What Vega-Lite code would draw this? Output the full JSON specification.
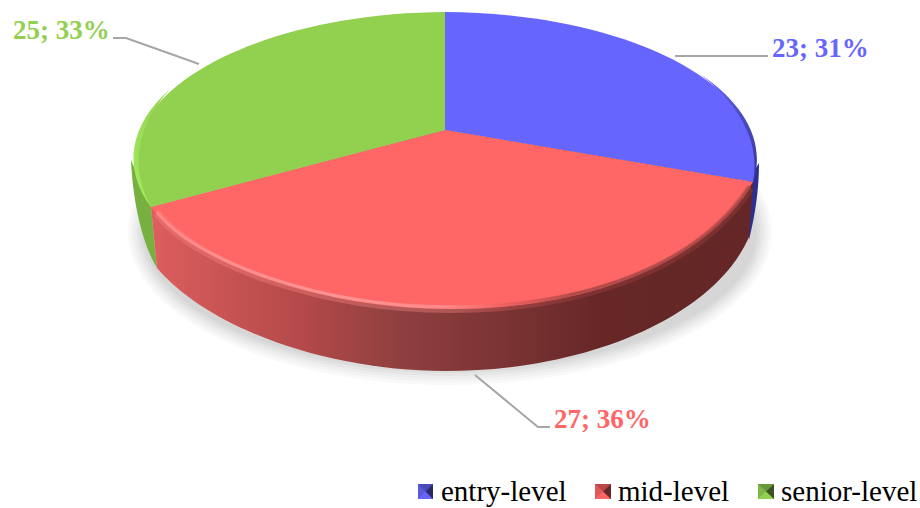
{
  "$schema": "https://vega.github.io/schema/vega-lite/v6.json",
  "width": 920,
  "height": 508,
  "padding": 0,
  "autosize": {"type": "fit", "contains": "padding"},
  "background": "white",
  "view": {"stroke": null},
  "data": {"values": [
    {"level": "entry-level", "count": 23, "share": 31, "label": "23; 31%"},
    {"level": "mid-level", "count": 27, "share": 36, "label": "27; 36%"},
    {"level": "senior-level", "count": 25, "share": 33, "label": "25; 33%"}
  ]},
  "resolve": {"scale": {"shape": "independent"}},
  "layer": [
    {"transform": [{"filter": "datum.level === 'mid-level'"}],
     "mark": {"type": "point", "filled": true, "size": 4, "opacity": 0.025, "fill": "#000", "strokeWidth": 0,
       "shape": "M-332,-22A322,153,0,1,0,312,-22A322,153,0,1,0,-332,-22Z"}},
    {"transform": [{"filter": "datum.level === 'mid-level'"}],
     "mark": {"type": "point", "filled": true, "size": 4, "opacity": 0.025, "fill": "#000", "strokeWidth": 0,
       "shape": "M-329,-22A319,150,0,1,0,309,-22A319,150,0,1,0,-329,-22Z"}},
    {"transform": [{"filter": "datum.level === 'mid-level'"}],
     "mark": {"type": "point", "filled": true, "size": 4, "opacity": 0.025, "fill": "#000", "strokeWidth": 0,
       "shape": "M-326,-22A316,147,0,1,0,306,-22A316,147,0,1,0,-326,-22Z"}},
    {"transform": [{"filter": "datum.level === 'mid-level'"}],
     "mark": {"type": "point", "filled": true, "size": 4, "opacity": 0.03, "fill": "#000", "strokeWidth": 0,
       "shape": "M-323,-22A313,144,0,1,0,303,-22A313,144,0,1,0,-323,-22Z"}},
    {"transform": [{"filter": "datum.level === 'mid-level'"}],
     "mark": {"type": "point", "filled": true, "size": 4, "opacity": 0.03, "fill": "#000", "strokeWidth": 0,
       "shape": "M-320,-22A310,141,0,1,0,300,-22A310,141,0,1,0,-320,-22Z"}},
    {"transform": [{"filter": "datum.level === 'mid-level'"}],
     "mark": {"type": "point", "filled": true, "size": 4, "opacity": 0.03, "fill": "#000", "strokeWidth": 0,
       "shape": "M-317,-22A307,138,0,1,0,297,-22A307,138,0,1,0,-317,-22Z"}},
    {"transform": [{"filter": "datum.level === 'entry-level'"}],
     "mark": {"type": "point", "filled": true, "size": 4, "opacity": 1, "fill": "#2c2f8f", "strokeWidth": 0,
       "shape": "M299,-91C299,-64,295,-39,289,-14L285,-69Z"}},
    {"transform": [{"filter": "datum.level === 'senior-level'"}],
     "mark": {"type": "point", "filled": true, "size": 4, "opacity": 1, "fill": "#78b040", "strokeWidth": 0,
       "shape": "M-329,-94C-327,-49,-317,-9,-303,14L-309,-47Z"}},
    {"transform": [{"filter": "datum.level === 'mid-level'"}],
     "mark": {"type": "point", "filled": true, "size": 4, "opacity": 1, "strokeWidth": 0,
       "fill": {"gradient": "linear", "x1": 0, "x2": 1, "y1": 0, "y2": 0, "stops": [
         {"offset": 0, "color": "#dd5e5e"},
         {"offset": 0.25, "color": "#b44949"},
         {"offset": 0.415, "color": "#8f3f3f"},
         {"offset": 0.58, "color": "#7c3434"},
         {"offset": 0.75, "color": "#672727"},
         {"offset": 1, "color": "#642626"}
       ]},
       "shape": "M-309,-47L-303,14C-250,76,-130,117,-15,117C130,117,255,61,289,-17L293,-72L-15,-124Z"}},
    {"mark": {"type": "point", "filled": true, "size": 4, "opacity": 1, "strokeWidth": 0},
     "encoding": {
       "color": {"field": "level", "type": "nominal",
         "scale": {"domain": ["entry-level", "mid-level", "senior-level"], "range": ["#6666ff", "#ff6666", "#92d050"]},
         "legend": {"title": null, "orient": "none", "legendX": 412, "legendY": 477, "direction": "horizontal", "columns": 3, "gridAlign": "none", "columnPadding": 22, "padding": 0, "symbolType": "M0,0L0,0", "symbolSize": 225, "symbolStrokeWidth": 0, "labelFont": "Liberation Serif", "labelFontSize": 29, "labelColor": "#000", "labelOffset": 0, "labelLimit": 300}},
       "shape": {"field": "level", "type": "nominal", "legend": null,
         "scale": {"domain": ["entry-level", "mid-level", "senior-level"], "range": [
           "M-15,-124L-15,-242A314,148,0,0,1,293,-72Z",
           "M-15,-124L293,-72C240,11,130,55,-10,55C-140,55,-270,8,-309,-47Z",
           "M-15,-124L-309,-47A314,148,0,0,1,-15,-242Z"
         ]}}
     }},
    {"transform": [{"filter": "datum.level === 'mid-level'"}],
     "mark": {"type": "point", "filled": false, "size": 4, "opacity": 0.35, "strokeWidth": 8,
       "stroke": {"gradient": "linear", "x1": 0, "x2": 1, "y1": 0, "y2": 0, "stops": [
         {"offset": 0, "color": "#ff8585"}, {"offset": 0.5, "color": "#ff8c8c"}, {"offset": 0.6, "color": "#d85a5a"},
         {"offset": 0.72, "color": "#a84444"}, {"offset": 1, "color": "#a84444"}
       ]},
       "shape": "M-303,-41C-265,9,-140,55,-10,55C130,55,240,11,290,-66"}},
    {"transform": [{"filter": "datum.level === 'mid-level'"}],
     "mark": {"type": "point", "filled": false, "size": 4, "opacity": 0.9, "strokeWidth": 3,
       "stroke": {"gradient": "linear", "x1": 0, "x2": 1, "y1": 0, "y2": 0, "stops": [
         {"offset": 0, "color": "#ff8a8a"}, {"offset": 0.3, "color": "#ff9898"}, {"offset": 0.48, "color": "#ff8e8e"}, {"offset": 0.58, "color": "#f46262"},
         {"offset": 0.7, "color": "#b04a4a"}, {"offset": 1, "color": "#b04a4a"}
       ]},
       "shape": "M-303,-42C-265,7,-140,53,-10,53C130,53,240,9,290,-68"}},
    {"transform": [{"filter": "datum.level === 'senior-level'"}],
     "mark": {"type": "point", "filled": true, "size": 4, "opacity": 1, "strokeWidth": 0,
       "fill": {"gradient": "linear", "x1": 0, "x2": 0, "y1": 1, "y2": 0, "stops": [
         {"offset": 0, "color": "#a4ec60"}, {"offset": 0.6, "color": "#9be058"}, {"offset": 1, "color": "#92d050"}
       ]},
       "shape": "M-309,-47A314,148,0,0,1,-290,-165A385,182,0,0,0,-309,-47Z"}},
    {"transform": [{"filter": "datum.level === 'entry-level'"}],
     "mark": {"type": "point", "filled": true, "size": 4, "opacity": 1, "strokeWidth": 0,
       "fill": {"gradient": "linear", "x1": 0, "x2": 0, "y1": 1, "y2": 0, "stops": [
         {"offset": 0, "color": "#33358f"}, {"offset": 0.6, "color": "#4a4cc0"}, {"offset": 1, "color": "#6666ff"}
       ]},
       "shape": "M293,-72A314,148,0,0,0,240,-180A375,177,0,0,1,293,-72Z"}},
    {"mark": {"type": "point", "filled": false, "size": 4, "opacity": 1, "stroke": "#a6a6a6", "strokeWidth": 2},
     "encoding": {
       "shape": {"field": "level", "type": "nominal", "legend": null,
         "scale": {"domain": ["entry-level", "mid-level", "senior-level"], "range": [
           "M215,-198L308,-198",
           "M15,121L78,173L90,173",
           "M-347,-216L-334,-216L-261,-190"
         ]}}
     }},
    {"transform": [{"filter": "datum.level === 'entry-level'"}],
     "mark": {"type": "text", "font": "Liberation Serif", "fontWeight": "bold", "fontSize": 27, "align": "left", "baseline": "alphabetic", "dx": 312, "dy": -197, "color": "#6666ff"},
     "encoding": {"text": {"field": "label"}}},
    {"transform": [{"filter": "datum.level === 'mid-level'"}],
     "mark": {"type": "text", "font": "Liberation Serif", "fontWeight": "bold", "fontSize": 27, "align": "left", "baseline": "alphabetic", "dx": 94, "dy": 174, "color": "#ff6666"},
     "encoding": {"text": {"field": "label"}}},
    {"transform": [{"filter": "datum.level === 'senior-level'"}],
     "mark": {"type": "text", "font": "Liberation Serif", "fontWeight": "bold", "fontSize": 27, "align": "left", "baseline": "alphabetic", "dx": -447, "dy": -215, "color": "#92d050"},
     "encoding": {"text": {"field": "label"}}},
    {"mark": {"type": "point", "filled": true, "size": 4, "opacity": 1, "strokeWidth": 0},
     "encoding": {
       "color": {"field": "level", "type": "nominal"},
       "shape": {"field": "level", "type": "nominal", "legend": null,
         "scale": {"domain": ["entry-level", "mid-level", "senior-level"], "range": [
           "M-42,230L-27,230L-27,245L-42,245Z",
           "M135,230L151,230L151,245L135,245Z",
           "M298,230L314,230L314,245L298,245Z"
         ]}}
     }},
    {"transform": [{"filter": "datum.level === 'mid-level'"}],
     "mark": {"type": "point", "filled": true, "size": 4, "opacity": 0.28, "fill": "#000", "strokeWidth": 0,
       "shape": "M-42,230L-27,230L-34.5,237.5ZM135,230L151,230L143,237.5ZM298,230L314,230L306,237.5Z"}},
    {"transform": [{"filter": "datum.level === 'mid-level'"}],
     "mark": {"type": "point", "filled": true, "size": 4, "opacity": 0.6, "fill": "#000", "strokeWidth": 0,
       "shape": "M-27,230L-27,245L-34.5,237.5ZM151,230L151,245L143,237.5ZM314,230L314,245L306,237.5Z"}},
    {"transform": [{"filter": "datum.level === 'mid-level'"}],
     "mark": {"type": "point", "filled": true, "size": 4, "opacity": 0.12, "fill": "#000", "strokeWidth": 0,
       "shape": "M-42,230L-42,245L-34.5,237.5ZM135,230L135,245L143,237.5ZM298,230L298,245L306,237.5Z"}}
  ]
}
